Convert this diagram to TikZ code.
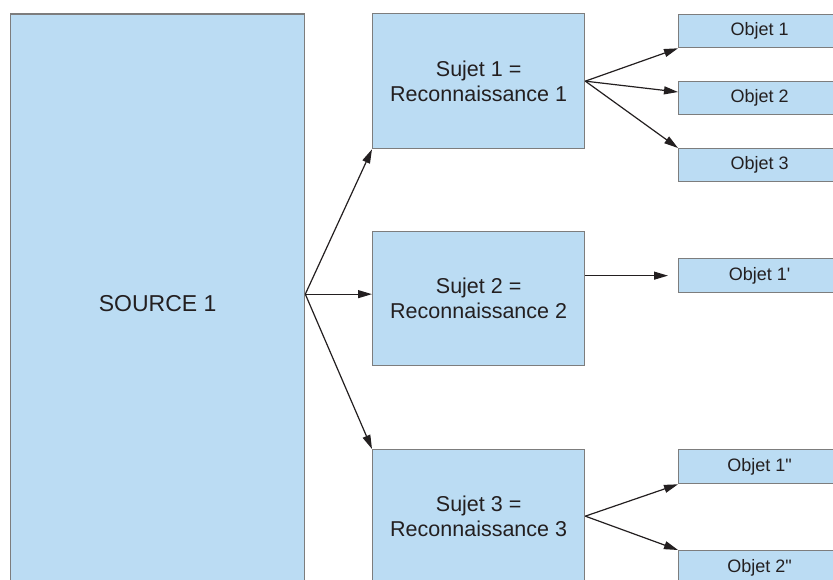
\documentclass[tikz,border=0pt]{standalone}
\usepackage{fontspec}
\setmainfont{Liberation Sans}
% same face without TeX ligature mapping, so quotes stay straight
\newfontfamily\straightfont{Liberation Sans}
\usetikzlibrary{arrows.meta,calc}
\definecolor{boxfill}{RGB}{187,220,243}
\definecolor{boxline}{RGB}{125,125,125}
\definecolor{ink}{RGB}{35,31,32}
\newcommand{\sq}{{\straightfont\symbol{39}}}
\newcommand{\dq}{{\straightfont\symbol{34}}}
\begin{document}
\begin{tikzpicture}[x=1pt,y=-1pt,
  box/.style={draw=boxline, line width=1.3pt, fill=boxfill, text=ink,
              inner sep=0pt, anchor=north west},
  big/.style={box, font=\fontsize{21.5}{25}\selectfont, align=center},
  small/.style={box, font=\fontsize{18}{20}\selectfont,
                minimum width=162pt},
  link/.style={draw=ink, line width=1.2pt,
               -{Triangle[length=14pt,width=8pt]}}]
\useasboundingbox (0,0) rectangle (833,580);
\clip (0,0) rectangle (833,580);

% source
\node[big, font=\fontsize{23}{27}\selectfont,
      minimum width=294pt, minimum height=578pt] (src) at (10,13.5) {SOURCE 1};

% subjects
\node[big, minimum width=212pt, minimum height=135pt] (s1) at (372,13)
  {Sujet 1 =\\Reconnaissance 1};
\node[big, minimum width=212pt, minimum height=134pt] (s2) at (372,231)
  {Sujet 2 =\\Reconnaissance 2};
\node[big, minimum width=212pt, minimum height=133pt] (s3) at (372,449)
  {Sujet 3 =\\Reconnaissance 3};

% objects
\node[small, minimum height=33pt] (o1) at (678,14)  {Objet 1};
\node[small, minimum height=33pt] (o2) at (678,81)  {Objet 2};
\node[small, minimum height=33pt] (o3) at (678,148) {Objet 3};
\node[small, minimum height=34pt] (o4) at (678,258) {Objet 1\sq};
\node[small, minimum height=34pt] (o5) at (678,449) {Objet 1\dq};
\node[small, minimum height=34pt] (o6) at (678,550) {Objet 2\dq};

% connectors
\coordinate (fork) at ([yshift=9pt]src.east);
\draw[link] (fork) -- (s1.south west);
\draw[link] (fork) -- (fork -| s2.west);
\draw[link] (fork) -- (s3.north west);

\draw[link] (s1.east) -- (o1.south west);
\draw[link] (s1.east) -- ([yshift=-11pt]o2.north west);
\draw[link] (s1.east) -- (o3.north west);

\draw[link] (s2.east |- o4.west) -- ([xshift=-10pt]o4.west);

\draw[link] (s3.east) -- (o5.south west);
\draw[link] (s3.east) -- (o6.north west);
\end{tikzpicture}
\end{document}
